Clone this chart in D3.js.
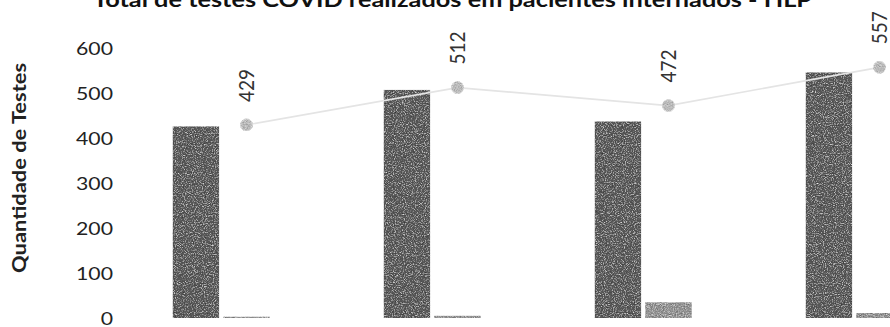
<!DOCTYPE html>
<html>
<head>
<meta charset="utf-8">
<script src="https://cdn.jsdelivr.net/npm/d3@7"></script>
<style>
  html, body { margin: 0; padding: 0; background: #fff; }
  svg { display: block; }
</style>
</head>
<body>
<svg id="chart" width="890" height="327"></svg>
<script>
// Monthly COVID tests on inpatients: positive bars, negative bars, total line
const categories = ["Mês 1", "Mês 2", "Mês 3", "Mês 4"];
const positivos = [426, 507, 437, 546];
const negativos = [3, 5, 35, 11];
const totais = [429, 512, 472, 557];
const yTicks = [0, 100, 200, 300, 400, 500, 600];

const titleText = "Total de testes COVID realizados em pacientes internados - HLP";
const yTitle = "Quantidade de Testes";

const svg = d3.select("#chart");
const FONT = "Lato, 'Open Sans', sans-serif";

// fine grain texture for the bars and markers
const defs = svg.append("defs");
function grain(id, seed, slope, intercept) {
  const f = defs.append("filter").attr("id", id)
    .attr("x", 0).attr("y", 0).attr("width", 1).attr("height", 1);
  f.append("feTurbulence").attr("type", "fractalNoise")
    .attr("baseFrequency", 0.9).attr("numOctaves", 2).attr("seed", seed).attr("result", "noise");
  f.append("feColorMatrix").attr("in", "noise").attr("type", "matrix")
    .attr("values", "0.33 0.33 0.33 0 0  0.33 0.33 0.33 0 0  0.33 0.33 0.33 0 0  0 0 0 0 1")
    .attr("result", "gnoise");
  const ct = f.append("feComponentTransfer").attr("in", "gnoise").attr("result", "cnoise");
  ["feFuncR", "feFuncG", "feFuncB"].forEach(n =>
    ct.append(n).attr("type", "linear").attr("slope", slope).attr("intercept", intercept));
  f.append("feBlend").attr("in", "SourceGraphic").attr("in2", "cnoise").attr("mode", "overlay").attr("result", "blend");
  f.append("feComposite").attr("in", "blend").attr("in2", "SourceGraphic").attr("operator", "in");
}
grain("grain", 4, 1.4, -0.2);
grain("grainSoft", 9, 0.9, 0.05);

const y = d3.scaleLinear().domain([0, 600]).range([318, 48]);

const x = d3.scaleBand().domain(categories)
  .range([141, 985]).paddingInner(0.3).paddingOuter(0.15);
const slot = d3.scaleBand().domain(["pos", "neg", "gap"])
  .range([0, x.bandwidth()]).paddingInner(0.08);

// title (its upper part runs past the top edge)
svg.append("text")
  .attr("x", 93).attr("y", 7)
  .attr("textLength", 719).attr("lengthAdjust", "spacingAndGlyphs")
  .attr("font-family", FONT)
  .attr("font-weight", "bold").attr("font-size", 21)
  .attr("fill", "#111")
  .text(titleText);

// y axis: labels only, no line or ticks
const yAxis = d3.axisLeft(y).tickValues(yTicks).tickSize(0).tickPadding(0);
const gy = svg.append("g").attr("transform", "translate(113,0)").call(yAxis);
gy.select(".domain").remove();
gy.selectAll("text")
  .attr("font-family", FONT)
  .attr("font-size", 17).attr("fill", "#222")
  .attr("dy", "0.36em")
  .attr("transform", "scale(1.25,1)");

// y axis title
svg.append("text")
  .attr("transform", "translate(26,168) rotate(-90)")
  .attr("text-anchor", "middle")
  .attr("textLength", 210).attr("lengthAdjust", "spacingAndGlyphs")
  .attr("font-family", FONT)
  .attr("font-weight", "bold").attr("font-size", 18)
  .attr("fill", "#222")
  .text(yTitle);

// positive bars
svg.append("g").selectAll("rect").data(categories).join("rect")
  .attr("x", (d) => x(d) + slot("pos"))
  .attr("width", slot.bandwidth())
  .attr("y", (d, i) => y(positivos[i]))
  .attr("height", (d, i) => y(0) - y(positivos[i]))
  .attr("fill", "#5a5a5a")
  .attr("filter", "url(#grain)");

// negative bars
svg.append("g").selectAll("rect").data(categories).join("rect")
  .attr("x", (d) => x(d) + slot("neg"))
  .attr("width", slot.bandwidth())
  .attr("y", (d, i) => y(negativos[i]))
  .attr("height", (d, i) => y(0) - y(negativos[i]))
  .attr("fill", "#949494")
  .attr("filter", "url(#grain)");

// total line
const cx = (d) => x(d) + slot("neg") + slot.bandwidth() / 2;
const line = d3.line().x((d, i) => cx(categories[i])).y((d) => y(d));
svg.append("path").datum(totais)
  .attr("d", line)
  .attr("fill", "none").attr("stroke", "#e4e4e4").attr("stroke-width", 1.6);

svg.append("g").selectAll("circle").data(totais).join("circle")
  .attr("cx", (d, i) => cx(categories[i]))
  .attr("cy", (d) => y(d))
  .attr("r", 6)
  .attr("fill", "#bcbcbc").attr("stroke", "#d8d8d8").attr("stroke-width", 1)
  .attr("filter", "url(#grainSoft)");

// rotated value labels above each marker
svg.append("g").selectAll("text").data(totais).join("text")
  .attr("transform", (d, i) => `translate(${cx(categories[i])},${y(d) - 23}) rotate(-90) scale(1,1.1)`)
  .attr("dy", "0.36em")
  .attr("text-anchor", "start")
  .attr("font-family", FONT)
  .attr("font-size", 19).attr("fill", "#333")
  .text((d) => d);
</script>
</body>
</html>
